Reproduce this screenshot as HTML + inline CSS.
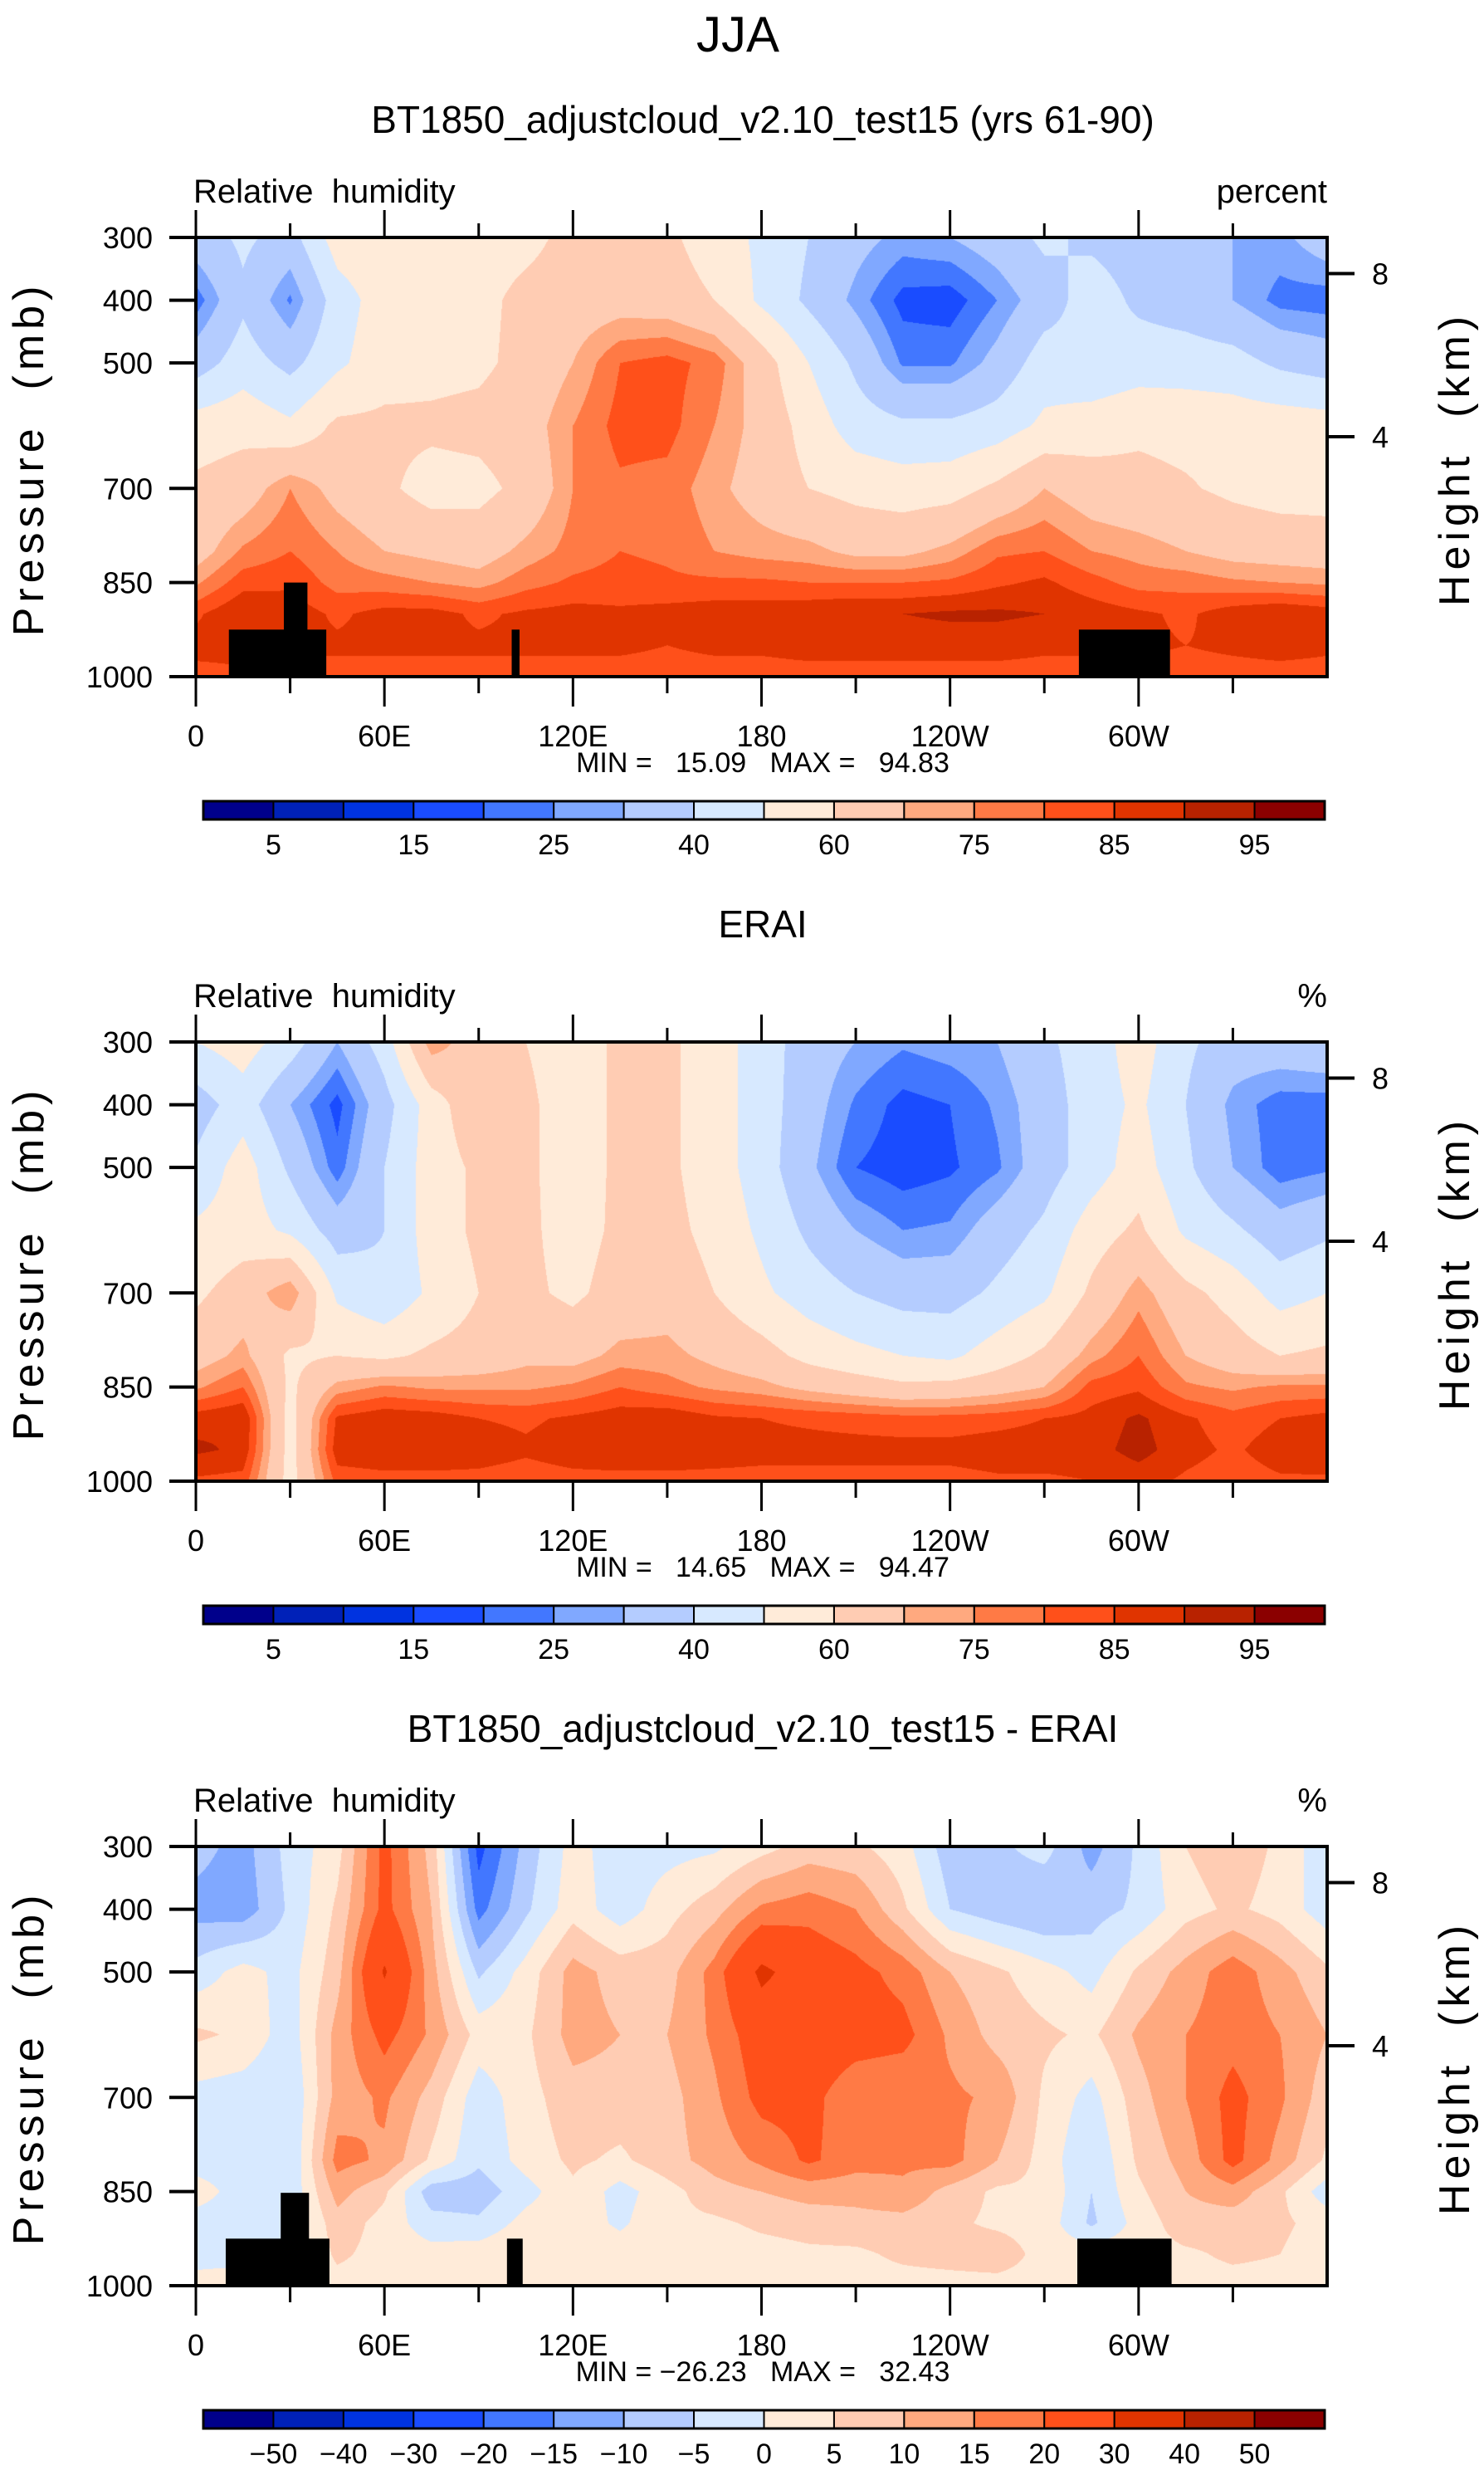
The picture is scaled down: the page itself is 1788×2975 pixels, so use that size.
<!DOCTYPE html>
<html><head><meta charset="utf-8">
<style>
html,body{margin:0;padding:0;background:#fff;}
body{width:1788px;height:2975px;position:relative;overflow:hidden;font-family:"Liberation Sans",sans-serif;}
canvas{position:absolute;}
svg{position:absolute;left:0;top:0;}
</style></head>
<body>
<svg id="ov" width="1788" height="2975"></svg>
<script>
const LONS=[0,15,30,45,60,75,90,105,120,135,150,165,180,195,210,225,240,255,270,285,300,315,330,345,360];
const PRES=[300,400,500,600,700,800,850,900,950,1000];
const rhModel=[
[35,42,36,55,58,55,55,57,63,64,62,55,48,40,33,28,30,35,42,38,35,37,30,28,35],
[22,38,24,45,55,55,57,63,65,66,65,60,48,38,28,18,17,25,35,45,38,35,30,23,22],
[35,45,37,48,56,57,58,63,70,80,82,78,65,50,38,24,24,33,45,42,45,45,44,38,35],
[55,57,52,62,62,62,63,66,75,82,82,75,67,56,45,42,42,45,52,55,58,57,56,56,55],
[62,65,75,67,62,56,57,63,75,79,78,72,66,60,57,55,56,62,70,65,63,61,58,56,56],
[66,76,80,75,70,68,66,72,77,80,79,75,73,72,68,68,72,79,80,75,73,70,67,66,65],
[74,83,84,78,77,75,73,78,81,82,81,81,81,80,80,80,81,84,86,82,78,78,76,75,74],
[84,90,88,84,87,87,84,86,87,86,87,88,88,89,90,90,91,91,90,88,86,84,88,90,88],
[87,87,86,86,86,86,86,86,86,86,85,86,86,87,87,87,87,87,86,86,86,85,86,87,86],
[83,84,83,83,83,83,83,83,83,83,83,83,83,83,83,83,83,83,83,83,83,83,83,83,83]];
const rhObs=[
[50,55,45,30,45,74,65,60,55,62,62,55,45,35,30,26,28,30,38,45,55,42,35,36,38],
[35,45,30,18,36,55,68,62,55,62,62,55,45,34,24,18,20,26,35,45,52,40,28,22,22],
[42,55,38,22,40,55,62,62,55,62,62,55,45,32,20,17,19,24,35,45,55,42,30,22,24],
[52,55,48,35,40,55,62,62,56,62,63,57,48,38,30,25,26,35,42,55,62,48,42,34,38],
[58,65,75,48,42,52,60,62,58,64,66,60,52,45,40,36,36,42,48,62,73,63,56,46,50],
[66,72,58,60,58,62,64,68,67,72,72,68,64,57,53,50,48,55,62,73,80,70,65,60,62],
[74,80,58,72,76,74,74,74,76,80,77,74,72,68,65,62,63,66,70,82,84,76,74,76,76],
[88,90,56,86,89,88,85,84,86,88,89,86,85,84,83,82,82,83,85,87,91,86,82,85,87],
[91,89,56,88,89,89,88,86,88,89,89,88,87,87,87,87,87,88,88,88,92,87,84,88,89],
[84,83,56,82,83,83,83,82,83,83,83,83,83,83,83,83,83,84,84,85,87,84,82,84,84]];
const rhDiff=[
[-8,-12,-3,3,22,8,-22,-8,2,-3,-2,-1,3,7,6,2,-8,-6,-3,-12,-4,5,8,4,-4],
[-12,-13,-4,6,22,10,-17,-6,3,-3,3,8,16,18,15,6,-5,-8,-10,-7,-4,3,6,3,-3],
[-3,2,-2,8,31,12,-6,2,12,8,8,17,32,25,22,18,10,6,2,-2,6,12,18,12,6],
[6,4,-3,12,22,14,3,4,12,10,10,16,24,25,23,22,14,8,6,4,11,15,18,15,10],
[-2,-3,-5,12,16,8,-3,3,8,8,8,14,22,22,16,15,16,14,4,-2,8,15,22,16,7],
[-3,-3,-5,17,14,4,-4,2,6,4,8,12,16,21,17,16,17,10,3,-5,6,12,22,13,4],
[3,-3,-4,12,6,-8,-8,-2,4,-2,3,8,10,12,12,14,8,4,4,-5,4,10,13,6,-3],
[-3,-3,-4,8,3,-3,-4,2,3,-1,4,4,6,7,8,8,6,4,3,-6,2,8,7,6,3],
[-2,-2,-2,6,3,2,3,5,3,3,3,2,3,4,4,6,7,8,3,3,3,4,6,5,2],
[2,3,3,3,3,3,3,3,3,3,3,3,3,3,3,3,3,3,3,3,3,3,3,3,2]];
const LEV_ABS=[5,10,15,20,25,30,40,50,60,70,75,80,85,90,95];
const LEV_DIFF=[-50,-40,-30,-20,-15,-10,-5,0,5,10,15,20,30,40,50];
const LAB_ABS=["5","15","25","40","60","75","85","95"];
const LAB_DIFF=["\u221250","\u221240","\u221230","\u221220","\u221215","\u221210","\u22125","0","5","10","15","20","30","40","50"];
const COLORS=["#00008b","#0021b8","#0033e0","#1a4cff","#4277ff","#80a8ff","#b4ccff","#d7e9ff","#ffebd9","#ffccb3","#ffa97f","#ff7a45","#ff501a","#e03400","#b82200","#8b0000"];
const XTICKS=[0,60,120,180,240,300];
const XLABELS=["0","60E","120E","180","120W","60W"];
const YTICKS=[300,400,500,700,850,1000];
const HTICKS=[8,4];
const LAND1=[[10.5,41.5,925],[28,35.5,850],[100.5,103,925],[281,310,925]];
const LAND3=[[9.5,42.5,925],[27,36,852],[99,104,925],[280.5,310.5,925]];

const NS="http://www.w3.org/2000/svg";
const ov=document.getElementById('ov');
const PL=236,PW=1363,PH=529;
function xs(lon){return PL+lon/360*PW;}
function ys(top,p){return top+(p-300)/700*PH;}
function hy(top,km){return top+(km===8?43.5:240);}
function el(tag,attrs,parent){const e=document.createElementNS(NS,tag);for(const k in attrs)e.setAttribute(k,attrs[k]);(parent||ov).appendChild(e);return e;}
function txt(x,y,s,size,anchor,parent){const t=el('text',{x:x,y:y,'font-size':size,'text-anchor':anchor||'middle','font-family':'Liberation Sans, sans-serif',fill:'#000'},parent);t.textContent=s;return t;}
function hex(c){return [parseInt(c.slice(1,3),16),parseInt(c.slice(3,5),16),parseInt(c.slice(5,7),16)];}
const RGB=COLORS.map(hex);

function drawField(top,data,levels,name){
  const cv=document.createElement('canvas');
  cv.width=PW;cv.height=PH;cv.style.left=PL+'px';cv.style.top=top+'px';
  
  
  document.body.insertBefore(cv,ov);
  const ctx=cv.getContext('2d');const img=ctx.createImageData(PW,PH);const d=img.data;
  for(let py=0;py<PH;py++){
    const p=300+(py+0.5)/PH*700;
    let j=0;while(j<PRES.length-2&&p>PRES[j+1])j++;
    const tp=(p-PRES[j])/(PRES[j+1]-PRES[j]);
    for(let px=0;px<PW;px++){
      const lon=(px+0.5)/PW*360;
      let i=Math.min(Math.floor(lon/15),LONS.length-2);
      const tl=(lon-LONS[i])/15;
      const a=data[j][i]*(1-tl)+data[j][i+1]*tl;
      const b=data[j+1][i]*(1-tl)+data[j+1][i+1]*tl;
      const v=a*(1-tp)+b*tp;
      let k=0;while(k<levels.length&&v>=levels[k])k++;
      const c=RGB[k];const o=(py*PW+px)*4;
      d[o]=c[0];d[o+1]=c[1];d[o+2]=c[2];d[o+3]=255;
    }
  }
  ctx.putImageData(img,0,0);
}

function drawPanel(top,title,data,levels,labels,land,unitText,minmax,tag){
  const g=el('g',{});
  
  
  drawField(top,data,levels,tag+'-contour-field');
  const tt=txt(919,top-126,title,46,'middle',g);
  
  
  const vl=txt(233,top-42,'Relative  humidity',40,'start',g);
  vl.setAttribute('style','white-space:pre');
  
  
  const ul=txt(1599,top-42,unitText,40,'end',g);
  
  
  land.forEach(function(L){
    const r=el('rect',{x:xs(L[0]),y:ys(top,L[2]),width:xs(L[1])-xs(L[0]),height:ys(top,1000)-ys(top,L[2]),fill:'#000'},g);
    
    
  });
  const fr=el('rect',{x:PL,y:top,width:PW,height:PH,fill:'none',stroke:'#000','stroke-width':4},g);
  
  
  for(let lon=0;lon<=330;lon+=30){
    const major=lon%60===0;const L=major?33:17;const x=xs(lon);
    el('line',{x1:x,y1:top,x2:x,y2:top-L,stroke:'#000','stroke-width':3},g);
    el('line',{x1:x,y1:top+PH,x2:x,y2:top+PH+L+3,stroke:'#000','stroke-width':3},g);
  }
  XTICKS.forEach(function(v,i){
    const t=txt(xs(v),top+PH+84,XLABELS[i],36,'middle',g);
    
    
  });
  YTICKS.forEach(function(p){
    const y=ys(top,p);
    el('line',{x1:PL,y1:y,x2:PL-32,y2:y,stroke:'#000','stroke-width':4},g);
    const t=txt(184,y+13,String(p),36,'end',g);
    
    
  });
  HTICKS.forEach(function(km){
    const y=hy(top,km);
    el('line',{x1:PL+PW,y1:y,x2:PL+PW+33,y2:y,stroke:'#000','stroke-width':4},g);
    const t=txt(1663,y+13,String(km),36,'middle',g);
    
    
  });
  const ya=txt(0,0,'Pressure  (mb)',52,'middle',g);
  ya.setAttribute('transform','translate(52,'+(top+PH/2+2)+') rotate(-90)');
  ya.setAttribute('letter-spacing','6');
  ya.setAttribute('style','white-space:pre');
  
  
  const ha=txt(0,0,'Height  (km)',52,'middle',g);
  ha.setAttribute('transform','translate(1770,'+(top+PH/2+2)+') rotate(-90)');
  ha.setAttribute('letter-spacing','6');
  ha.setAttribute('style','white-space:pre');
  
  
  const mm=txt(919,top+PH+115,minmax,34,'middle',g);
  mm.setAttribute('style','white-space:pre');
  
  
  const cbTop=top+PH+150,cbL=245,cbR=1596,cbH=22,bw=(cbR-cbL)/16;
  for(let k=0;k<16;k++){
    const r=el('rect',{x:cbL+k*bw,y:cbTop,width:bw,height:cbH,fill:COLORS[k],stroke:'#000','stroke-width':2},g);
    
    
  }
  el('rect',{x:cbL,y:cbTop,width:cbR-cbL,height:cbH,fill:'none',stroke:'#000','stroke-width':3},g);
  const step=labels.length===8?2:1;
  labels.forEach(function(s,i){
    const k=step===2?1+2*i:1+i;
    const t=txt(cbL+k*bw,cbTop+64,s,34,'middle',g);
    
    
  });
}
const jja=txt(889,62,'JJA',60,'middle');


drawPanel(286,'BT1850_adjustcloud_v2.10_test15 (yrs 61-90)',rhModel,LEV_ABS,LAB_ABS,LAND1,'percent','MIN =   15.09   MAX =   94.83','model');
drawPanel(1255,'ERAI',rhObs,LEV_ABS,LAB_ABS,[],'%','MIN =   14.65   MAX =   94.47','erai');
drawPanel(2224,'BT1850_adjustcloud_v2.10_test15 - ERAI',rhDiff,LEV_DIFF,LAB_DIFF,LAND3,'%','MIN = \u221226.23   MAX =   32.43','diff');
</script>
</body></html>
